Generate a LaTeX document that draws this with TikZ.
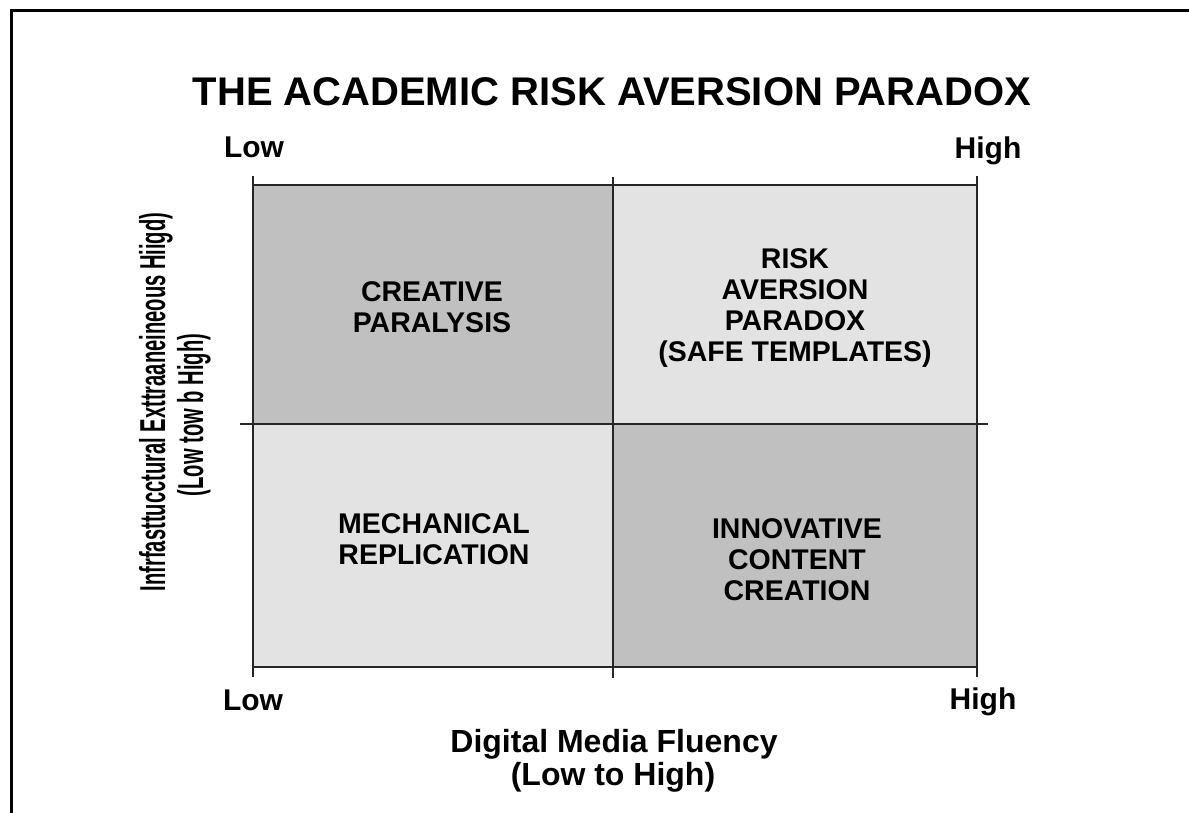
\documentclass[tikz,border=0pt]{standalone}
\usepackage{fontspec}
\setmainfont{Liberation Sans}
\newfontfamily\condfont[FakeStretch=0.56]{Liberation Sans}
\usepackage{tikz}
\usetikzlibrary{positioning}
\definecolor{quaddark}{RGB}{192,192,192}
\definecolor{quadlight}{RGB}{227,227,227}
\definecolor{gridline}{RGB}{38,38,38}

\begin{document}
\begin{tikzpicture}[x=1pt,y=-1pt,
    quad/.style={font=\bfseries\fontsize{28.5}{31}\selectfont,align=center},
    axlabel/.style={font=\bfseries\fontsize{30}{32}\selectfont,anchor=base},
    axtitle/.style={font=\bfseries\fontsize{32}{34}\selectfont,anchor=base},
    gridrule/.style={gridline,line width=2.8pt}]
\useasboundingbox (0,0) rectangle (1189,813);
\fill[white] (0,0) rectangle (1189,813);
% frame (only left and top edges)
\draw[line width=3pt] (11,813) -- (11,11) -- (1189,11);

% the four quadrants
\fill[quaddark]  (253,185) rectangle (613,424);
\fill[quadlight] (613,185) rectangle (977,424);
\fill[quadlight] (253,424) rectangle (613,667);
\fill[quaddark]  (613,424) rectangle (977,667);

\draw[gridrule] (253,176) -- (253,677);
\draw[gridrule] (977,176) -- (977,677);
\draw[gridrule] (613,177) -- (613,678);
\draw[gridrule] (253,185) -- (977,185);
\draw[gridrule] (253,667) -- (977,667);
\draw[gridrule] (240,424) -- (988,424);

\node[font=\bfseries\fontsize{40}{44}\selectfont] (title) at (612,92) {THE ACADEMIC RISK AVERSION PARADOX};

\node[quad] (creative) at (432,307) {CREATIVE\\PARALYSIS};
\node[quad] (risk) at (795,308) {RISK\\AVERSION\\PARADOX\\(SAFE TEMPLATES)};
\node[quad] (mech) at (434,539) {MECHANICAL\\REPLICATION};
\node[quad] (innov) at (797,560) {INNOVATIVE\\CONTENT\\CREATION};

% axis ends
\node[axlabel] (toplow) at (254,158) {Low};
\node[axlabel] (tophigh) at (988,159) {High};
\node[axlabel] (botlow) at (253,710) {Low};
\node[axlabel] (bothigh) at (983,709) {High};

% axis titles
\node[axtitle] (xtitle) at (614,752) {Digital Media Fluency};
\node[axtitle] (xrange) at (613,785) {(Low to High)};
\node[font=\condfont\bfseries\fontsize{36}{38}\selectfont,rotate=90,anchor=base] (ytitle) at (165,402) {Infrfasttucctural Exttraaneineous Hiigd)};
\node[font=\condfont\bfseries\fontsize{36}{38}\selectfont,rotate=90,anchor=base] (yrange) at (203,415) {(Low tow b High)};
\end{tikzpicture}
\end{document}
